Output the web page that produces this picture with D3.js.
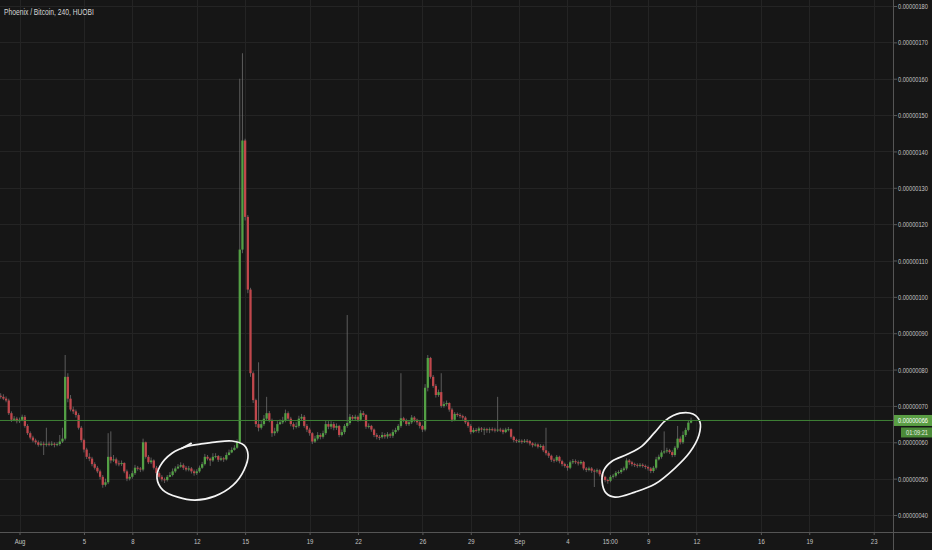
<!DOCTYPE html>
<html><head><meta charset="utf-8">
<script src="https://cdn.jsdelivr.net/npm/d3@7"></script>
<style>
html,body{margin:0;padding:0;background:#161616;}
svg{display:block;}
text{font-family:"Liberation Sans","DejaVu Sans",sans-serif;}
</style></head>
<body>
<svg id="c" width="932" height="550"></svg>
<script>
// ---- data (prices in units of 1e-8 BTC, 4h candles starting 2018-07-30 20:00 UTC) ----
const title = "Phoenix / Bitcoin, 240, HUOBI";
const firstOpen = 72.8;
const closes = [
72.5,72,71.5,68,66.2,66.5,65.8,66.2,67,64.5,
62.5,61.3,60.5,60,59.3,59.6,59.3,59.6,59.4,59.6,
59.3,59.5,60.2,61,78,72,69,68.5,67.5,64,
60.6,58,56,55.5,54,53,52,50.5,48.3,49,
56,55,55.3,54.2,54,54.3,52,50,50.5,51.5,
53,52.8,52.5,60,56,54.5,55,53,51.5,50.5,
49.8,49.6,50.5,51,52,52.8,53.3,53.7,53,52.5,
52.8,52,51.5,52,53,54,56,55.5,55,56,
56.2,55.2,55.6,55.3,56.5,57.2,57.9,58.5,60,113,
143,122,102,79,71.6,65,64,65,66.5,68,
66,62.5,63,65,65.5,66,68,66.5,65,64.3,
64.5,66.5,67,64.5,63.5,62.5,60.2,61,62,61.5,
62.5,65,64.3,65,64,64.5,62,62.8,64.5,65.3,
67,66.5,67,66.2,68,67.5,64.3,64.5,63.5,62,
61.5,61.4,62,61.6,62.2,61.8,62.8,63.4,64.5,66.6,
66,65,65.5,66.8,66.2,65.5,64.5,63.5,75,83.2,
78,75.5,73,73.8,70,70.5,70.8,69,66.2,67.8,
67.5,67.2,66.8,65.5,64.5,62.8,63.4,63.2,63.8,63.5,
63.6,63.4,63.6,63.5,63.3,63.5,63.4,62.8,63.5,63.6,
61.5,60.6,60.3,60.4,60.2,60.4,60.3,59.7,59.2,59.4,
58.8,59,57.8,57,56.3,55.2,55,56,54.8,54,
53.5,53,54.5,54.8,54.5,54.2,54.6,52.8,52.4,52.8,
52.2,52,52.3,51.2,50.5,49.6,49.4,50.5,50.8,51.6,
51.8,52.4,52.8,55,54.5,54,53.8,53.6,53.8,53.5,
53.2,52.8,52.1,53,55.3,56,57.2,57.5,57.8,57.3,
56.5,58.5,61,60,62,63.4,65.4,66];
const highs = [
73.5,73.2,72.6,72,68.5,67.2,67,66.8,67.6,67.5,
65,63,61.8,61,60.5,60.3,60.2,64,60.2,60.3,
60,60,62,64,84,79,73,69.8,69,68,
64.5,61,58.5,57,56,54.5,53.5,52.5,51,50,
62.5,63,56.5,55.8,55,55,54.5,52.5,51.2,52.2,
53.8,53.5,53.2,61,60.2,56.5,55.8,55.3,53.5,52,
51,50.3,51,51.8,52.8,53.4,54,54.5,54.2,53.5,
53.5,53.2,52.5,52.6,53.6,54.6,56.8,56.5,55.8,57,
57,56.5,56.2,56,57.2,58,58.6,59.2,60.8,160,
167,143.5,122.5,102.5,79.5,72,82,66,67.5,72.5,
68.6,66.5,64,65.8,66.3,67,69,68.5,67,65.5,
65.5,67.3,67.8,67.5,65,64,62.8,61.8,62.8,62.5,
63.2,66,65.8,65.8,65.6,65.2,64.8,63.5,65,95,
67.8,67.5,67.6,67.4,68.8,68.6,67.8,65.2,64.8,63.8,
62.5,62,62.8,62.5,62.8,62.6,63.5,64,65,79,
67,66.5,66,67.5,67.2,66.5,65.8,64.8,76,84,
83.5,78.5,76,74.5,79,71.2,71.5,71,69.5,68.3,
68.2,68,67.6,67.2,66,65,64,63.9,64.3,64.2,
64.1,64,64.1,64.1,64,72.5,64,63.8,64,64.2,
63.8,61.8,61,60.9,60.8,60.9,60.9,60.6,60,59.9,
59.7,59.5,59.4,64,57.5,56.6,55.6,56.5,56.3,55.2,
54.4,54,55,55.4,55.3,55,55.1,54.9,53.2,53.3,
53.2,52.6,52.8,52.6,51.6,50.8,50,51,51.3,52.1,
52.3,52.9,53.3,55.6,55.4,54.9,54.4,54.2,54.3,54.2,
53.9,53.6,53.2,53.5,56,56.6,57.8,63,58.5,58.2,
57.8,59,64.5,61.6,63,64,66,66.8];
const lows = [
72,71.6,71,67.5,65.6,65.8,65.2,65.3,65.8,64,
62,60.8,60,59.4,58.8,58.9,56.5,58.8,58.9,59,
58.6,58.9,59,59.8,60.5,71,68.5,67.8,66.8,63.5,
60,57.2,55.4,54.8,53.4,52.5,51.5,49.8,47.5,47.8,
48.5,54.2,54.6,53.6,53.4,53.5,51.5,49.3,49.5,50,
51,52.2,51.8,52,55.5,54,54,52.5,51,50,
49.2,48.8,49.2,50.4,50.6,51.6,52.6,53,52.4,52,
52,51.4,50.8,51,51.6,52.7,53.6,55,53.5,54.6,
55.6,54.6,54.8,54.6,55,56.4,57,57.7,58.2,59.5,
112,121,101,78,70.8,64.2,63,63.5,64.5,66,
65.5,61.5,61.8,62.5,64.8,65,65.5,66,64.4,63.5,
63.8,64,66,64,62.8,61.8,59.5,59.8,60.5,60.8,
61,62,63.6,63.6,63.3,63.4,61.4,61.6,62.2,64,
64.8,66,66,65.6,65.8,67,63.7,63.8,62.9,61.4,
60.8,60.6,61,61,61,61.2,61.2,62.3,63,64,
65.5,64.5,64.5,65,65.5,64.8,63.8,62.8,63,74,
77.5,75,72.3,72.5,69.5,69.5,70,68.4,65.6,65.8,
67,66.6,66.2,65,64,62.2,62.5,62.7,62.5,62.8,
62,62.6,62.5,63,62.7,62.8,62.8,62.2,62.5,63,
61,60,59.8,59.8,59.6,59.8,59.7,59.1,58.6,58.8,
58.3,58.4,57.3,56.4,55.7,54.6,54.4,54.6,54.2,53.4,
53,52.2,52.6,54,54,53.6,53.8,52.3,51.8,52,
51.6,47.7,51.5,50.6,49.9,49,48.6,49,50,50.3,
51.2,51.3,52,52.3,53.8,53.4,53.2,53,53.1,53,
52.6,52.2,51.5,51.6,52.5,55,55.5,56.8,57,56.8,
55.9,56,58,59.4,59.5,61.5,63,65.2];
const lastPrice = 66;
const countdown = "01:09:21";
const yTickValues = [40,50,60,70,80,90,100,110,120,130,140,150,160,170,180];
const xTickDates = [[2018,7,1,0],[2018,7,5,0],[2018,7,8,0],[2018,7,12,0],[2018,7,15,0],[2018,7,19,0],[2018,7,22,0],[2018,7,26,0],[2018,7,29,0],[2018,8,1,0],[2018,8,4,0],[2018,8,6,15],[2018,8,9,0],[2018,8,12,0],[2018,8,16,0],[2018,8,19,0],[2018,8,23,0]];
const xTickLabels = ["Aug","5","8","12","15","19","22","26","29","Sep","4","15:00","9","12","16","19","23"];
// hand-drawn annotation loops, [days after Aug 1, price]
const loop1 = [[10.45,58.95],[9.46,57.0],[8.72,53.45],[8.53,50.15],[8.9,46.85],[9.83,44.9],[10.89,44.1],[12.13,45.2],[13.25,48.2],[13.93,52.35],[14.18,56.5],[13.93,59.2],[13.19,60.35],[12.13,60.05],[11.2,59.5]];
const loop1Hook = [[10.05,58.3],[10.65,59.7]];
const loop2 = [[36.15,49.05],[36.4,46.0],[36.95,44.9],[38.19,46.3],[39.43,48.5],[40.67,52.9],[41.6,57.3],[42.16,62.0],[42.22,65.55],[41.79,67.75],[40.98,68.0],[40.11,66.1],[39.43,62.8],[38.62,58.95],[37.75,56.75],[36.76,54.8],[36.26,52.35]];

// ---- layout ----
const W = 932, H = 550, axisX = 893, axisY = 532;
const UP = "#53a045", DOWN = "#c0474c", WICK = "#7a7a7a";
const BG = "#161616", GRID = "#242424";
const E = 1e-8;
const H4 = 4*3600*1000, DAY = 86400000;
const t0 = Date.UTC(2018,6,30,20);
const aug1 = Date.UTC(2018,7,1);

// horizontally condense a text node to a target width (keeps its bounding box honest)
function fit(node, target){
  const L = node.getComputedTextLength();
  if (!L) return;
  const s = Math.min(1, target / L);
  const xa = +node.getAttribute("x") || 0;
  node.setAttribute("x", xa / s);
  node.setAttribute("transform", `scale(${s},1)`);
}

const svg = d3.select("#c");
svg.append("rect").attr("width",W).attr("height",H).attr("fill",BG);

const x = d3.scaleUtc().domain([Date.UTC(2018,7,1), Date.UTC(2018,8,23)]).range([19.5, 873.7]);
const y = d3.scaleLinear().domain([40*E, 180*E]).range([515, 6]);

const candles = closes.map((c,i)=>({
  t: new Date(t0 + i*H4),
  o: i===0 ? firstOpen : closes[i-1],
  c: c, h: highs[i], l: lows[i]
}));
const xTicks = xTickDates.map(d=>new Date(Date.UTC(d[0],d[1],d[2],d[3])));

// grid
const g = svg.append("g");
g.selectAll("line.hg").data(yTickValues).join("line")
  .attr("x1",0).attr("x2",axisX).attr("y1",d=>Math.round(y(d*E))+0.5).attr("y2",d=>Math.round(y(d*E))+0.5)
  .attr("stroke",GRID).attr("stroke-width",1);
g.selectAll("line.vg").data(xTicks).join("line")
  .attr("x1",d=>Math.round(x(d))+0.5).attr("x2",d=>Math.round(x(d))+0.5).attr("y1",0).attr("y2",axisY)
  .attr("stroke",GRID).attr("stroke-width",1);

// candles
const step = x(new Date(t0+H4)) - x(new Date(t0));
const bw = step*0.85;
const cg = svg.append("g");
cg.selectAll("line.w").data(candles).join("line")
  .attr("x1",d=>x(d.t)).attr("x2",d=>x(d.t))
  .attr("y1",d=>y(d.h*E)).attr("y2",d=>y(d.l*E))
  .attr("stroke",WICK).attr("stroke-width",0.7);
cg.selectAll("rect").data(candles).join("rect")
  .attr("x",d=>x(d.t)-bw/2).attr("width",bw)
  .attr("y",d=>y(Math.max(d.o,d.c)*E))
  .attr("height",d=>Math.max(1, Math.abs(y(d.o*E)-y(d.c*E))))
  .attr("fill",d=>d.c>=d.o?UP:DOWN);

// annotations
const toPt = p=>[x(new Date(aug1 + p[0]*DAY)), y(p[1]*E)];
const closedLine = d3.line().curve(d3.curveCatmullRomClosed.alpha(0.5));
const openLine = d3.line();
const ag = svg.append("g").attr("fill","none").attr("stroke","#f4f4f4").attr("stroke-width",1.7).attr("stroke-linecap","round");
ag.append("path").attr("d",closedLine(loop1.map(toPt)));
ag.append("path").attr("d",openLine(loop1Hook.map(toPt)));
ag.append("path").attr("d",closedLine(loop2.map(toPt)));

// last price line
svg.append("line").attr("x1",0).attr("x2",axisX)
  .attr("y1",y(lastPrice*E)).attr("y2",y(lastPrice*E))
  .attr("stroke","#3f8236").attr("stroke-width",1);

// right axis
const yAxis = d3.axisRight(y).tickValues(yTickValues.map(v=>v*E)).tickSize(4).tickPadding(1)
  .tickFormat(d3.format(".8f"));
const ya = svg.append("g").attr("transform",`translate(${axisX},0)`).call(yAxis);
ya.select(".domain").remove();
ya.selectAll(".tick line").attr("stroke","#5a5a5a");
ya.selectAll(".tick text").attr("fill","#c4c4c4").attr("font-size","8px")
  .each(function(){ fit(this, 30); });

// bottom axis
const xAxis = d3.axisBottom(x).tickValues(xTicks).tickSize(3).tickPadding(4)
  .tickFormat((d,i)=>xTickLabels[i]);
const xa = svg.append("g").attr("transform",`translate(0,${axisY})`).call(xAxis);
xa.select(".domain").remove();
xa.selectAll(".tick line").attr("stroke","#5a5a5a");
xa.selectAll(".tick text").attr("fill","#c4c4c4").attr("font-size","7.5px")
  .each(function(){ fit(this, this.getComputedTextLength()*0.8); });

// axis lines
svg.append("line").attr("x1",0).attr("x2",W).attr("y1",axisY+0.5).attr("y2",axisY+0.5).attr("stroke","#555").attr("stroke-width",1);
svg.append("line").attr("x1",axisX+0.5).attr("x2",axisX+0.5).attr("y1",0).attr("y2",H).attr("stroke","#555").attr("stroke-width",1);

// price label
const py = y(lastPrice*E);
svg.append("rect").attr("x",axisX+1).attr("y",py-5.5).attr("width",W-axisX-1).attr("height",11).attr("fill","#5a9e44");
const pt = svg.append("g").attr("transform",`translate(${axisX+5},${py})`);
pt.append("text").attr("x",0).attr("y",0).attr("dy","0.33em").attr("fill","#ffffff").attr("font-size","8px")
  .text(d3.format(".8f")(lastPrice*E)).each(function(){ fit(this, 30); });
svg.append("rect").attr("x",901).attr("y",py+7).attr("width",W-901).attr("height",10).attr("fill","#4b8a38");
const ct = svg.append("g").attr("transform",`translate(${W-4},${py+12})`);
ct.append("text").attr("x",0).attr("dy","0.33em").attr("text-anchor","end").attr("fill","#e8f0e4").attr("font-size","8px")
  .text(countdown).each(function(){ fit(this, 22); });

// title
const tg = svg.append("g").attr("transform","translate(4,12)");
tg.append("text").attr("x",0).attr("dy","0.33em").attr("fill","#d6d6d6").attr("font-size","8.5px")
  .text(title).each(function(){ fit(this, 90); });
</script>
</body></html>
